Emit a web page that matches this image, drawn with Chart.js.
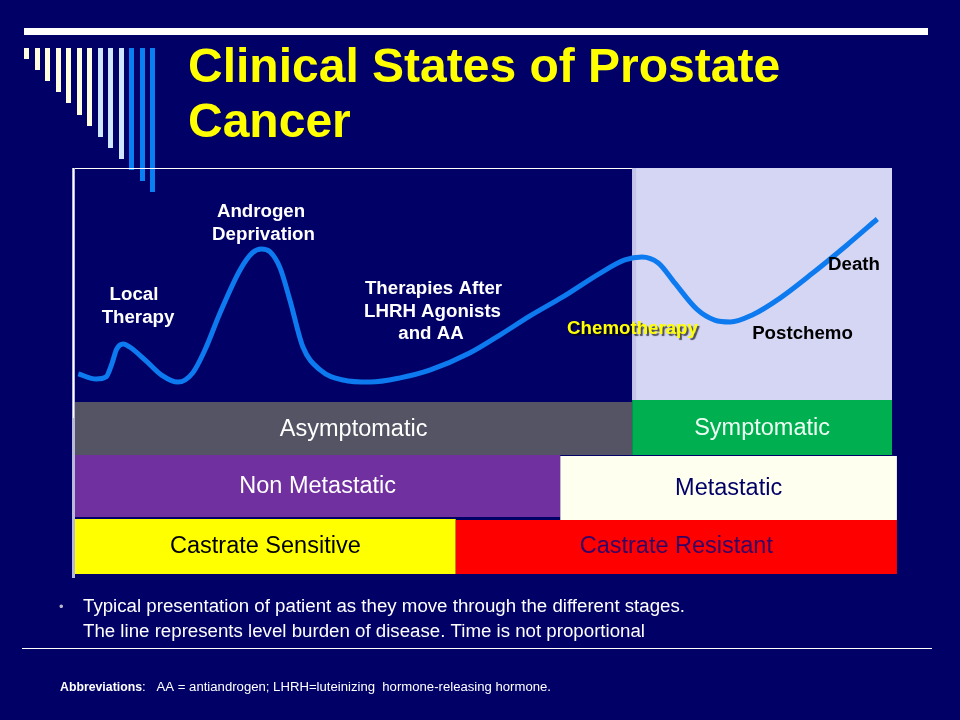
<!DOCTYPE html>
<html><head><meta charset="utf-8">
<script src="https://cdn.jsdelivr.net/npm/chart.js@4.4.1/dist/chart.umd.min.js"></script>
<style>html,body{margin:0;padding:0;background:#000066;overflow:hidden}canvas{display:block}</style>
</head><body>
<canvas id="c" width="960" height="720"></canvas>
<script>
// ---- data (time is not proportional; burden is arbitrary units 0-100) ----
const timePoints = [0.4, 2.6, 3.8, 4.5, 5.1, 5.9, 6.7, 8.6, 10.6, 12.6, 14.4, 15.9, 17.7, 20.2, 21.7, 22.8, 23.9, 25.1, 26.3, 27.9, 30.0, 32.8, 36.1, 39.8, 43.5, 48.3, 52.0, 55.7, 59.7, 64.3, 67.3, 69.4, 71.4, 73.4, 76.1, 78.3, 80.2, 82.9, 86.3, 90.3, 94.5, 98.2];
const diseaseBurden = [12.0, 9.8, 10.7, 16.2, 22.6, 24.8, 23.5, 17.9, 11.5, 8.5, 12.4, 22.2, 37.6, 56.4, 63.7, 65.4, 64.1, 57.3, 43.6, 23.5, 13.7, 9.4, 8.5, 10.3, 13.7, 20.9, 28.6, 36.8, 44.9, 55.1, 60.7, 62.0, 59.4, 50.9, 39.7, 35.0, 34.2, 37.2, 44.4, 55.1, 67.1, 78.2];

const bandLabels = ['Asymptomatic', 'Symptomatic', 'Non Metastatic', 'Metastatic', 'Castrate Sensitive', 'Castrate Resistant'];
const bandStart = [0, 68.2, 0, 59.4, 0, 46.6];
const bandEnd = [68.2, 100, 59.4, 100.6, 46.6, 100.6];
const symptomaticFrom = 68.2;

const therapyLabels = [['Local', 'Therapy'], ['Androgen', 'Deprivation'], ['Therapies After', 'LHRH Agonists', 'and AA'], ['Chemotherapy'], ['Postchemo'], ['Death']];
const titleLines = ['Clinical States of Prostate', 'Cancer'];
const noteLines = ['Typical presentation of patient as they move through the different stages.', 'The line represents level burden of disease. Time is not proportional'];
const abbrevHead = 'Abbreviations';
const abbrevText = ':   AA = antiandrogen; LHRH=luteinizing  hormone-releasing hormone.';

// ---- styles / layout ----
const FONT = '"Liberation Sans", Arial, sans-serif';
const NARROW = '"Liberation Sans Narrow", "Arial Narrow", "Liberation Sans", Arial, sans-serif';
const bandStyle = [
  {top: 402, bottom: 455, fill: '#545464', color: '#ffffff', ty: 430},
  {top: 400, bottom: 455, fill: '#00b050', color: '#eefff4', ty: 429},
  {top: 455, bottom: 517, fill: '#7030a0', color: '#ffffff', ty: 487},
  {top: 456, bottom: 520, fill: '#fffff0', color: '#000066', ty: 489},
  {top: 519, bottom: 574, fill: '#ffff00', color: '#000000', ty: 547},
  {top: 520, bottom: 574, fill: '#ff0000', color: '#330066', ty: 547}
];
const labelStyle = [
  {color: '#ffffff', pos: [[134, 295], [138, 318]]},
  {color: '#ffffff', pos: [[261, 212], [263.5, 235]]},
  {color: '#ffffff', pos: [[433.5, 289], [432.5, 312], [431, 334]]},
  {color: '#ffff00', pos: [[632.5, 329]], shadow: true},
  {color: '#000000', pos: [[802.5, 334]]},
  {color: '#000000', pos: [[854, 265]]}
];

function fitText(ctx, text, x, y, width) {
  const w = ctx.measureText(text).width;
  ctx.save();
  ctx.translate(x, y);
  ctx.scale(width / w, 1);
  ctx.fillText(text, 0, 0);
  ctx.restore();
}

const slidePlugin = {
  id: 'slide',
  beforeDraw(chart) {
    const ctx = chart.ctx;
    const xs = chart.scales.x;
    const area = chart.chartArea;
    ctx.save();
    ctx.fillStyle = '#000066';
    ctx.fillRect(0, 0, chart.width, chart.height);
    // top rule
    ctx.fillStyle = '#ffffff';
    ctx.fillRect(24, 28, 904, 7);
    // stripes
    for (let i = 0; i < 13; i++) {
      ctx.fillStyle = i < 7 ? '#fffde0' : (i < 10 ? '#cfe6ff' : '#0a7ff2');
      const x = 24 + i * 10.5;
      const b = 59 + i * 11.1;
      ctx.fillRect(Math.round(x), 48, 5, Math.round(b - 48));
    }
    // title
    ctx.fillStyle = '#ffff00';
    ctx.font = 'bold 48px ' + FONT;
    ctx.textBaseline = 'alphabetic';
    ctx.textAlign = 'left';
    ctx.fillText(titleLines[0], 188, 82);
    ctx.fillText(titleLines[1], 188, 137);
    // chart frame
    const sx = xs.getPixelForValue(symptomaticFrom);
    const rx = xs.getPixelForValue(100);
    ctx.fillStyle = '#d5d6f3';
    ctx.fillRect(sx, area.top, rx - sx, 400 - area.top);
    ctx.fillStyle = '#c4c5ea';
    ctx.fillRect(sx, area.top, 4, 400 - area.top);
    ctx.fillStyle = '#ffffff';
    ctx.fillRect(73, area.top, sx - 73, 1);
    ctx.fillStyle = '#b8b8d8';
    ctx.fillRect(72, area.top, 3, 578 - area.top);
    ctx.fillStyle = '#ffffff';
    ctx.fillRect(73, area.top, 1, 250);
    // bands
    ctx.textAlign = 'center';
    ctx.textBaseline = 'middle';
    ctx.font = '23.5px ' + FONT;
    for (let i = 0; i < bandLabels.length; i++) {
      const s = bandStyle[i];
      const x0 = xs.getPixelForValue(bandStart[i]);
      const x1 = xs.getPixelForValue(bandEnd[i]);
      ctx.fillStyle = s.fill;
      ctx.fillRect(x0, s.top, x1 - x0, s.bottom - s.top);
      ctx.fillStyle = s.color;
      ctx.fillText(bandLabels[i], (x0 + x1) / 2, s.ty);
    }
    // notes
    ctx.textAlign = 'left';
    ctx.fillStyle = '#b8b8c8';
    ctx.font = '13px ' + FONT;
    ctx.fillText('\u2022', 59, 607);
    ctx.fillStyle = '#ffffff';
    ctx.font = '18px ' + NARROW;
    fitText(ctx, noteLines[0], 83, 607, 602);
    fitText(ctx, noteLines[1], 83, 632, 562);
    ctx.fillRect(22, 648, 910, 1);
    ctx.font = 'bold 12px ' + NARROW;
    fitText(ctx, abbrevHead, 60, 688, 82);
    ctx.font = '12px ' + NARROW;
    fitText(ctx, abbrevText, 142, 688, 409);
    ctx.restore();
  },
  afterDatasetsDraw(chart) {
    const ctx = chart.ctx;
    ctx.save();
    ctx.textAlign = 'center';
    ctx.textBaseline = 'middle';
    ctx.font = 'bold 18.7px ' + FONT;
    therapyLabels.forEach((lines, i) => {
      const st = labelStyle[i];
      lines.forEach((t, j) => {
        ctx.save();
        if (st.shadow) {
          ctx.shadowColor = 'rgba(0,0,0,0.65)';
          ctx.shadowOffsetX = 2;
          ctx.shadowOffsetY = 2;
          ctx.shadowBlur = 1;
        }
        ctx.fillStyle = st.color;
        ctx.fillText(t, st.pos[j][0], st.pos[j][1]);
        ctx.restore();
      });
    });
    ctx.restore();
  }
};

new Chart(document.getElementById('c'), {
  type: 'line',
  data: {
    datasets: [{
      data: timePoints.map((t, i) => ({x: t, y: diseaseBurden[i]})),
      borderColor: '#0d7aef',
      borderWidth: 5,
      pointRadius: 0,
      fill: false,
      cubicInterpolationMode: 'monotone',
      borderCapStyle: 'butt'
    }]
  },
  options: {
    responsive: false,
    animation: false,
    devicePixelRatio: 1,
    layout: {padding: {left: 75, right: 68, top: 168, bottom: 318}},
    scales: {
      x: {type: 'linear', min: 0, max: 100, display: false},
      y: {type: 'linear', min: 0, max: 100, display: false}
    },
    plugins: {legend: {display: false}, tooltip: {enabled: false}}
  },
  plugins: [slidePlugin]
});
</script>
</body></html>
